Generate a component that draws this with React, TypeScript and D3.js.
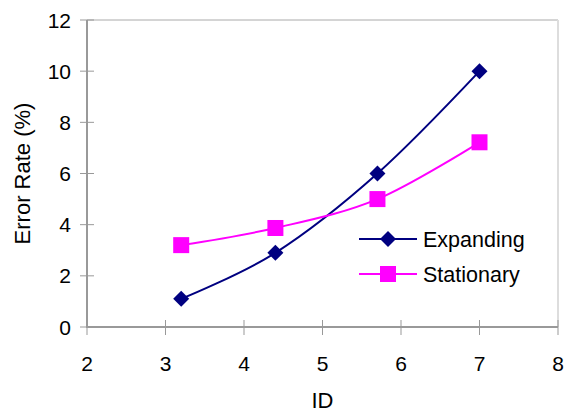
import React from "react";
import * as d3 from "d3";

const xTicks = [2, 3, 4, 5, 6, 7, 8];
const yTicks = [0, 2, 4, 6, 8, 10, 12];
const ids = [3.2, 4.4, 5.7, 7];
const expanding = [1.1, 2.9, 6.0, 10.0];
const stationary = [3.2, 3.87, 5.0, 7.22];
const seriesNames = ["Expanding", "Stationary"];
const seriesColors = ["#000080", "#FF00FF"];

const W = 566, H = 412;
const L = 87, R = 558, T = 20, B = 327;

export default function App() {
  const x = d3.scaleLinear().domain([2, 8]).range([L, R]);
  const y = d3.scaleLinear().domain([0, 12]).range([B, T]);
  const line = d3.line<[number, number]>()
    .x(d => x(d[0])).y(d => y(d[1]))
    .curve(d3.curveCatmullRom.alpha(0));
  const expPts = ids.map((v, i) => [v, expanding[i]] as [number, number]);
  const staPts = ids.map((v, i) => [v, stationary[i]] as [number, number]);
  const font = "Liberation Sans, Arial, sans-serif";
  const diamond = (cx: number, cy: number, r: number) =>
    `M${cx},${cy - r}L${cx + r},${cy}L${cx},${cy + r}L${cx - r},${cy}Z`;
  const legY = [239, 274];
  return (
    <svg width={W} height={H} style={{ position: "absolute", left: 0, top: 0, background: "#fff" }}
      fontFamily={font}>
      <line x1={L} x2={R} y1={T} y2={T} stroke="#aaa" strokeWidth={1} />
      <line x1={R} x2={R} y1={T} y2={B} stroke="#ddd" strokeWidth={2} />
      {yTicks.map(t => (
        <g key={"y" + t}>
          <line x1={L - 7} x2={L + 7} y1={y(t)} y2={y(t)} stroke="#999" strokeWidth={1} />
          <text x={71} y={y(t)} dy="0.36em" textAnchor="end" fontSize={21} fill="#000">{t}</text>
        </g>
      ))}
      {xTicks.map(t => (
        <g key={"x" + t}>
          <line x1={x(t)} x2={x(t)} y1={B - 7} y2={B + 8} stroke="#999" strokeWidth={1} />
          <text x={x(t)} y={371} textAnchor="middle" fontSize={21} fill="#000">{t}</text>
        </g>
      ))}
      <line x1={L} x2={L} y1={T} y2={B + 1} stroke="#999" strokeWidth={2} />
      <line x1={L - 1} x2={R} y1={B} y2={B} stroke="#999" strokeWidth={2} />
      <text x={(L + R) / 2} y={408} textAnchor="middle" fontSize={22} fill="#000">ID</text>
      <text transform={`translate(30,${(T + B) / 2}) rotate(-90)`} textAnchor="middle" fontSize={22} fill="#000">Error Rate (%)</text>

      <path d={line(expPts) || ""} fill="none" stroke={seriesColors[0]} strokeWidth={2} />
      <path d={line(staPts) || ""} fill="none" stroke={seriesColors[1]} strokeWidth={2} />
      {expPts.map((p, i) => (
        <path key={"e" + i} d={diamond(x(p[0]), y(p[1]), 8)} fill={seriesColors[0]} />
      ))}
      {staPts.map((p, i) => (
        <rect key={"s" + i} x={x(p[0]) - 8} y={y(p[1]) - 8} width={16} height={16} fill={seriesColors[1]} />
      ))}

      {seriesNames.map((n, i) => (
        <g key={n}>
          <line x1={359} x2={417} y1={legY[i]} y2={legY[i]} stroke={seriesColors[i]} strokeWidth={2} />
          {i === 0
            ? <path d={diamond(388, legY[i], 8)} fill={seriesColors[i]} />
            : <rect x={380} y={legY[i] - 8} width={16} height={16} fill={seriesColors[i]} />}
          <text x={423} y={legY[i]} dy="0.36em" fontSize={21.5} fill="#000">{n}</text>
        </g>
      ))}
    </svg>
  );
}
